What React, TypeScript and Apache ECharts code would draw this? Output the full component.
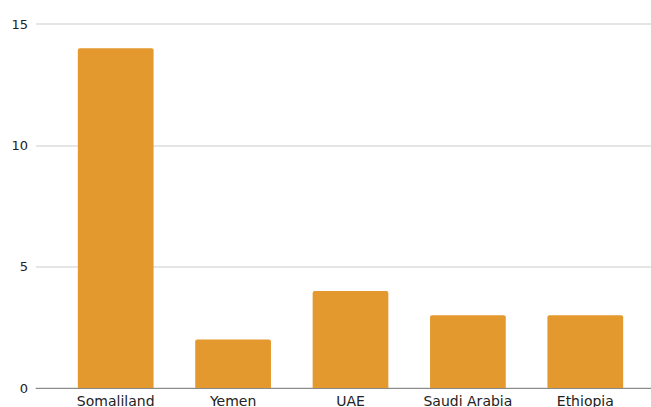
import React, { useEffect, useRef } from "react";
import * as echarts from "echarts";

const categories = ["Somaliland", "Yemen", "UAE", "Saudi Arabia", "Ethiopia"];
const values = [14, 2, 4, 3, 3];
const yTicks = { min: 0, max: 15, interval: 5 };

export default function App() {
  const ref = useRef<HTMLDivElement>(null);
  useEffect(() => {
    const chart = echarts.init(ref.current!, undefined, { renderer: "svg" });
    chart.setOption({
      animation: false,
      grid: [
        { left: 57, right: 7, top: 24, bottom: 19, outerBoundsMode: "none", containLabel: false },
        { left: 36, right: 0, top: 24, bottom: 19, outerBoundsMode: "none", containLabel: false },
      ],
      xAxis: [
        {
          type: "category",
          gridIndex: 0,
          data: categories,
          axisLine: { show: false },
          axisTick: { show: false },
          axisLabel: { color: "#222", fontSize: 14, fontFamily: "DejaVu Sans", margin: 6 },
        },
        {
          type: "value",
          gridIndex: 1,
          min: 0,
          max: 1,
          axisLine: { show: true, lineStyle: { color: "#8a8a8a", width: 1 } },
          axisTick: { show: false },
          axisLabel: { show: false },
          splitLine: { show: false },
        },
      ],
      yAxis: [
        {
          type: "value",
          gridIndex: 0,
          ...yTicks,
          axisLabel: { show: false },
          splitLine: { show: false },
          axisLine: { show: false },
          axisTick: { show: false },
        },
        {
          type: "value",
          gridIndex: 1,
          ...yTicks,
          axisLabel: { color: "#222", fontSize: 13, fontFamily: "DejaVu Sans", margin: 8 },
          splitLine: { lineStyle: { color: "#dcdcdc", width: 1.5 } },
          axisLine: { show: false },
          axisTick: { show: false },
        },
      ],
      series: [
        {
          type: "bar",
          xAxisIndex: 0,
          yAxisIndex: 0,
          data: values,
          barWidth: "64.5%",
          itemStyle: { color: "#E3992D", borderRadius: [2, 2, 0, 0] },
          z: 3,
        },
      ],
    });
    return () => chart.dispose();
  }, []);
  return <div ref={ref} style={{ width: 651, height: 407, position: "absolute", left: 0, top: 0 }} />;
}
